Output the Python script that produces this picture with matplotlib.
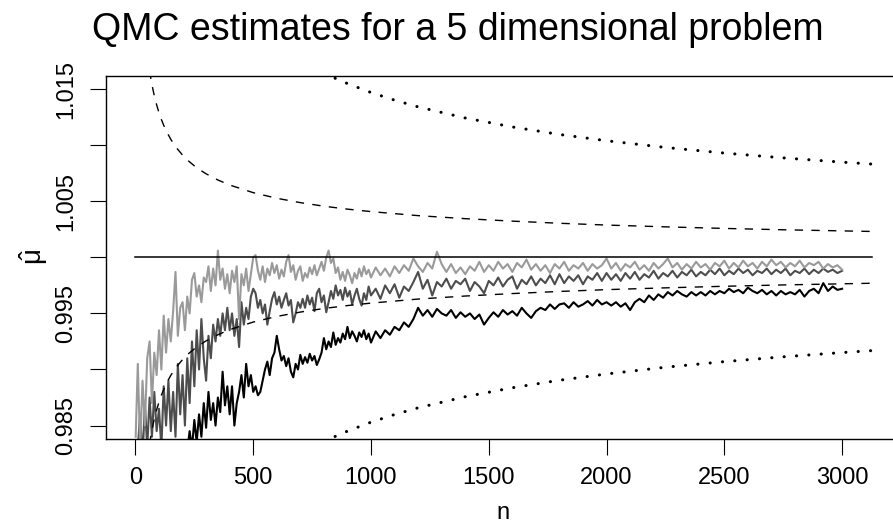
import numpy as np
import matplotlib
matplotlib.use("Agg")
import matplotlib.pyplot as plt

plt.rcParams['font.family'] = ['Liberation Sans', 'DejaVu Sans']
plt.rcParams['mathtext.fontset'] = 'custom'
plt.rcParams['mathtext.rm'] = 'Liberation Sans'
plt.rcParams['mathtext.it'] = 'Liberation Sans'

# ---- estimates ----
n_early = list(range(0, 501, 10))
n_early[0] = 1
n_mid = list(range(510, 1001, 10))
n_late = list(range(1020, 3001, 20))

light_early = [0.9840, 0.9905, 0.9830, 0.9890, 0.9850, 0.9910, 0.9925, 0.9870, 0.9915, 0.9895,
               0.9935, 0.9900, 0.9948, 0.9915, 0.9945, 0.9925, 0.9952, 0.9987, 0.9930, 0.9955,
               0.9960, 0.9935, 0.9965, 0.9950, 0.9980, 0.9986, 0.9965, 0.9975, 0.9960, 0.9982,
               0.9978, 0.9992, 0.9970, 0.9990, 0.9975, 1.0006, 0.9980, 0.9990, 0.9972, 0.9985,
               0.9968, 0.9988, 0.9978, 0.9992, 0.9945, 0.9985, 0.9975, 0.9990, 0.9970, 0.9985,
               1.0000]
light_mid = [1.0002, 0.9988, 0.9980, 0.9992, 0.9978, 0.9990, 0.9984, 0.9995, 0.9986, 0.9993,
             0.9981, 0.9989, 0.9983, 0.9996, 1.0002, 0.9987, 0.9993, 0.9980, 0.9988, 0.9992,
             0.9979, 0.9986, 0.9982, 0.9991, 0.9985, 0.9993, 0.9984, 0.9990, 0.9996, 0.9988,
             1.0000, 1.0006, 0.9995, 0.9999, 0.9986, 0.9991, 0.9980, 0.9987, 0.9979, 0.9989,
             0.9984, 0.9977, 0.9986, 0.9981, 0.9990, 0.9983, 0.9992, 0.9985, 0.9989, 0.9982]
light_late = [0.9991, 0.9984, 0.9990, 0.9983, 0.9992, 0.9986, 0.9993, 0.9988, 0.9999, 0.9992,
              0.9987, 0.9995, 0.9990, 1.0005, 0.9994, 0.9987, 0.9994, 0.9986, 0.9991, 0.9985,
              0.9992, 0.9988, 0.9996, 0.9987, 0.9993, 0.9988, 0.9996, 0.9990, 0.9994, 0.9987,
              0.9995, 0.9991, 0.9998, 0.9989, 0.9994, 0.9988, 0.9993, 0.9986, 0.9994, 0.9990,
              0.9996, 0.9988, 0.9993, 0.9990, 0.9995, 0.9988, 0.9994, 0.9990, 0.9993, 0.9999,
              0.9990, 0.9995, 0.9988, 0.9994, 0.9991, 0.9996, 0.9989, 0.9993, 0.9988, 0.9995,
              0.9990, 0.9994, 0.9999, 0.9991, 0.9995, 0.9989, 0.9994, 0.9990, 0.9996, 0.9991,
              0.9994, 0.9989, 0.9995, 0.9992, 0.9997, 0.9990, 0.9995, 0.9991, 0.9997, 0.9992,
              0.9995, 0.9990, 0.9996, 0.9992, 0.9998, 0.9993, 0.9996, 0.9991, 0.9995, 0.9992,
              0.9997, 0.9991, 0.9995, 0.9993, 0.9996, 0.9990, 0.9994, 0.9991, 0.9993, 0.9989]

dark_early = [0.9780, 0.9830, 0.9860, 0.9820, 0.9870, 0.9830, 0.9875, 0.9840, 0.9880, 0.9845,
              0.9865, 0.9830, 0.9885, 0.9850, 0.9890, 0.9845, 0.9880, 0.9840, 0.9905, 0.9860,
              0.9895, 0.9850, 0.9910, 0.9870, 0.9925, 0.9885, 0.9935, 0.9900, 0.9945, 0.9910,
              0.9890, 0.9930, 0.9910, 0.9940, 0.9925, 0.9945, 0.9930, 0.9950, 0.9935, 0.9955,
              0.9935, 0.9950, 0.9930, 0.9945, 0.9920, 0.9960, 0.9940, 0.9955, 0.9945, 0.9965,
              0.9972]
dark_mid = [0.9968, 0.9955, 0.9962, 0.9950, 0.9958, 0.9940, 0.9952, 0.9963, 0.9969, 0.9958,
            0.9965, 0.9955, 0.9962, 0.9968, 0.9957, 0.9962, 0.9942, 0.9950, 0.9960, 0.9955,
            0.9963, 0.9955, 0.9966, 0.9958, 0.9964, 0.9952, 0.9968, 0.9972, 0.9960, 0.9966,
            0.9951, 0.9960, 0.9970, 0.9963, 0.9975, 0.9966, 0.9971, 0.9962, 0.9973, 0.9965,
            0.9970, 0.9958, 0.9966, 0.9972, 0.9963, 0.9957, 0.9968, 0.9962, 0.9974, 0.9966]
dark_late = [0.9972, 0.9963, 0.9975, 0.9968, 0.9976, 0.9964, 0.9974, 0.9970, 0.9978, 0.9987,
             0.9972, 0.9980, 0.9966, 0.9978, 0.9974, 0.9981, 0.9972, 0.9979, 0.9976, 0.9981,
             0.9970, 0.9978, 0.9974, 0.9968, 0.9979, 0.9975, 0.9982, 0.9974, 0.9980, 0.9983,
             0.9972, 0.9980, 0.9976, 0.9983, 0.9975, 0.9981, 0.9977, 0.9984, 0.9976, 0.9985,
             0.9977, 0.9983, 0.9979, 0.9984, 0.9976, 0.9983, 0.9980, 0.9986, 0.9979, 0.9986,
             0.9980, 0.9985, 0.9979, 0.9986, 0.9981, 0.9987, 0.9980, 0.9985, 0.9982, 0.9988,
             0.9981, 0.9986, 0.9983, 0.9988, 0.9982, 0.9987, 0.9984, 0.9989, 0.9983, 0.9987,
             0.9984, 0.9989, 0.9985, 0.9990, 0.9984, 0.9988, 0.9985, 0.9990, 0.9986, 0.9989,
             0.9984, 0.9988, 0.9986, 0.9990, 0.9985, 0.9989, 0.9986, 0.9990, 0.9984, 0.9988,
             0.9986, 0.9990, 0.9985, 0.9989, 0.9986, 0.9990, 0.9987, 0.9989, 0.9986, 0.9988]

black_early_n = [1, 50, 100, 150, 200, 210, 220, 230, 240, 250, 260, 270, 280, 290, 300, 310, 320,
                 330, 340, 350, 360, 370, 380, 390, 400, 410, 420, 430, 440, 450, 460, 470, 480,
                 490, 500]
black_early = [0.9700, 0.9750, 0.9780, 0.9800, 0.9825, 0.9835, 0.9828, 0.9845, 0.9830, 0.9855,
               0.9835, 0.9860, 0.9840, 0.9870, 0.9848, 0.9880, 0.9855, 0.9870, 0.9850, 0.9875,
               0.9862, 0.9898, 0.9868, 0.9885, 0.9860, 0.9885, 0.9850, 0.9870, 0.9880, 0.9895,
               0.9875, 0.9905, 0.9885, 0.9895, 0.9880]
black_mid = [0.9885, 0.9877, 0.9880, 0.9890, 0.9900, 0.9907, 0.9895, 0.9910, 0.9915, 0.9930,
             0.9918, 0.9908, 0.9912, 0.9903, 0.9910, 0.9898, 0.9893, 0.9905, 0.9900, 0.9913,
             0.9905, 0.9911, 0.9906, 0.9914, 0.9908, 0.9912, 0.9904, 0.9909, 0.9915, 0.9928,
             0.9918, 0.9925, 0.9920, 0.9933, 0.9922, 0.9928, 0.9924, 0.9932, 0.9927, 0.9938,
             0.9928, 0.9934, 0.9930, 0.9925, 0.9933, 0.9929, 0.9935, 0.9927, 0.9932, 0.9924]
black_late = [0.9934, 0.9928, 0.9935, 0.9931, 0.9938, 0.9935, 0.9942, 0.9938, 0.9945, 0.9955,
              0.9948, 0.9953, 0.9947, 0.9954, 0.9950, 0.9948, 0.9953, 0.9946, 0.9951, 0.9947,
              0.9950, 0.9945, 0.9949, 0.9940, 0.9946, 0.9951, 0.9947, 0.9953, 0.9949, 0.9952,
              0.9948, 0.9955, 0.9950, 0.9946, 0.9952, 0.9955, 0.9953, 0.9958, 0.9954, 0.9958,
              0.9959, 0.9955, 0.9960, 0.9956, 0.9958, 0.9961, 0.9957, 0.9962, 0.9958, 0.9960,
              0.9957, 0.9960, 0.9956, 0.9959, 0.9953, 0.9960, 0.9963, 0.9960, 0.9966, 0.9962,
              0.9967, 0.9964, 0.9969, 0.9966, 0.9970, 0.9967, 0.9965, 0.9969, 0.9966, 0.9969,
              0.9966, 0.9970, 0.9967, 0.9970, 0.9968, 0.9972, 0.9969, 0.9971, 0.9968, 0.9973,
              0.9970, 0.9968, 0.9971, 0.9967, 0.9970, 0.9966, 0.9970, 0.9967, 0.9969, 0.9967,
              0.9971, 0.9965, 0.9970, 0.9972, 0.9968, 0.9977, 0.9970, 0.9974, 0.9971, 0.9972]

# ---- reference curves (half widths around 1) ----
true_n = [0, 3125]
true_val = [1.0, 1.0]

dash_n = [60, 65, 70, 75, 80, 90, 100, 110, 120, 135, 150, 165, 180, 200, 225, 250, 275, 300,
          350, 400, 500, 600, 700, 800, 900, 1000, 1200, 1400, 1600, 1800, 2000, 2250, 2500,
          2750, 3000, 3125]
dash_hw = [0.01665, 0.01600, 0.01542, 0.01490, 0.01442, 0.01360, 0.01290, 0.01230, 0.01178,
           0.01110, 0.01053, 0.01004, 0.00962, 0.00912, 0.00860, 0.00816, 0.00778, 0.00745,
           0.00690, 0.00645, 0.00577, 0.00527, 0.00488, 0.00456, 0.00430, 0.00408, 0.00372,
           0.00345, 0.00323, 0.00304, 0.00288, 0.00272, 0.00258, 0.00246, 0.00236, 0.00231]

dot_n = [800, 850, 900, 1000, 1100, 1200, 1400, 1600, 1800, 2000, 2250, 2500, 2750, 3000, 3125]
dot_hw = [0.01644, 0.01595, 0.01550, 0.01470, 0.01402, 0.01342, 0.01243, 0.01163, 0.01096,
          0.01040, 0.00980, 0.00930, 0.00887, 0.00849, 0.00832]

xticks = [0, 500, 1000, 1500, 2000, 2500, 3000]
yticks = [0.985, 0.990, 0.995, 1.000, 1.005, 1.010, 1.015]
ylabels = ['0.985', '', '0.995', '', '1.005', '', '1.015']

fig = plt.figure(figsize=(8.93, 5.27), dpi=100)
ax = fig.add_axes([106 / 893, 88 / 527, 795 / 893, 363.3 / 527])

ax.plot(black_early_n + n_mid + n_late, black_early + black_mid + black_late,
        color='black', lw=1.5)
ax.plot(n_early + n_mid + n_late, dark_early + dark_mid + dark_late, color='#4d4d4d', lw=1.5)
ax.plot(n_early + n_mid + n_late, light_early + light_mid + light_late, color='#9a9a9a', lw=1.5)

ax.plot(true_n, true_val, color='black', lw=1.1)
dn = np.array(dash_n)
dh = np.array(dash_hw)
ax.plot(dn, 1 + dh, color='black', lw=1.0, linestyle=(0, (6, 6)))
ax.plot(dn, 1 - dh, color='black', lw=1.0, linestyle=(0, (6, 6)))
on = np.array(dot_n)
oh = np.array(dot_hw)
ax.plot(on, 1 + oh, color='black', lw=2.2, linestyle=(0, (0.05, 4.0)), dash_capstyle='round')
ax.plot(on, 1 - oh, color='black', lw=2.2, linestyle=(0, (0.05, 4.0)), dash_capstyle='round')

ax.set_xlim(-125, 3250)
ax.set_ylim(0.9838, 1.0162)
ax.set_xticks(xticks)
ax.set_xticklabels([str(t) for t in xticks])
ax.set_yticks(yticks)
ax.set_yticklabels(ylabels, rotation=90, va='center')
ax.tick_params(direction='out', length=11.5, width=0.8, labelsize=17, pad=9)
for s in ax.spines.values():
    s.set_linewidth(1.0)

ax.set_xlabel('n', fontsize=17, labelpad=9)
ax.set_ylabel(r'$\hat{\mu}$', fontsize=20, labelpad=4)

fig.text(458 / 893, 1 - 40 / 527, 'QMC estimates for a 5 dimensional problem',
         fontsize=27, ha='center', va='baseline')

fig.savefig('out.png', dpi=100)
